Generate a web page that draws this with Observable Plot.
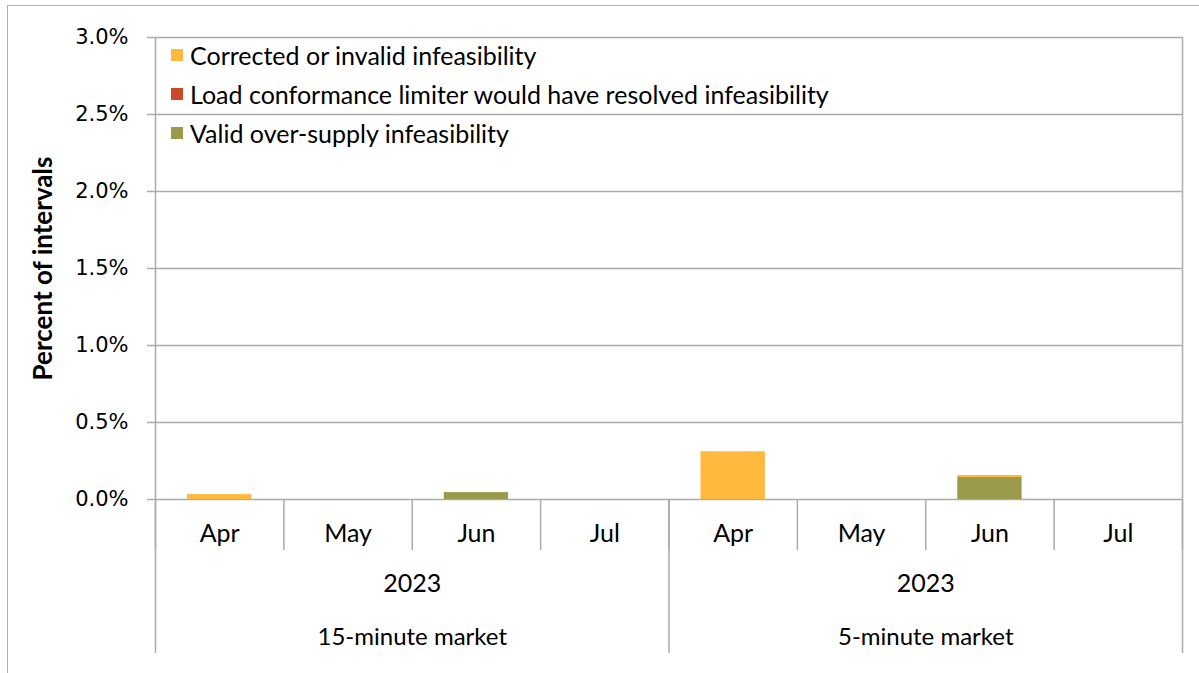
<!DOCTYPE html>
<html>
<head>
<meta charset="utf-8">
<script src="https://cdn.jsdelivr.net/npm/d3@7"></script>
<script src="https://cdn.jsdelivr.net/npm/@observablehq/plot@0.6"></script>
<style>
  body { margin: 0; background: #fff; }
  #wrap { position: relative; width: 1199px; height: 673px; overflow: hidden; font-family: Lato, "Open Sans", sans-serif; }
  #border { position: absolute; left: 7px; top: 5px; width: 1300px; height: 800px; border-left: 1.5px solid #b0b0b0; border-top: 1.5px solid #b0b0b0; }
  #legend { position: absolute; left: 171px; top: 35px; font-size: 25px; color: #000; }
  #legend .row { display: flex; align-items: center; height: 39px; }
  #legend .sw { width: 12px; height: 12px; margin-right: 7px; }
  svg { position: absolute; left: 0; top: 0; }
</style>
</head>
<body>
<div id="wrap"><div id="border"></div><div id="legend"></div></div>
<script>
const markets = ["15-minute market", "5-minute market"];
const year = "2023";
const months = ["Apr", "May", "Jun", "Jul"];
const seriesNames = [
  "Corrected or invalid infeasibility",
  "Load conformance limiter would have resolved infeasibility",
  "Valid over-supply infeasibility"
];
const seriesColors = ["#FFB93C", "#C9492A", "#9A9C4B"];
// values per category (15-min Apr..Jul, 5-min Apr..Jul), as fractions
const corrected = [0.00032, 0, 0, 0, 0.0031, 0, 0.00013, 0];
const loadConformance = [0, 0, 0, 0, 0, 0, 0, 0];
const validOverSupply = [0, 0, 0.00045, 0, 0, 0, 0.00143, 0];
const yTicks = [0, 0.005, 0.01, 0.015, 0.02, 0.025, 0.03];

const categories = markets.flatMap(m => months.map(mo => ({market: m, month: mo})));
const nCat = categories.length;
// stack order bottom -> top
const stackOrder = [
  {name: seriesNames[2], values: validOverSupply, color: seriesColors[2]},
  {name: seriesNames[1], values: loadConformance, color: seriesColors[1]},
  {name: seriesNames[0], values: corrected, color: seriesColors[0]}
];
const rects = [];
categories.forEach((c, i) => {
  let base = 0;
  stackOrder.forEach(s => {
    const v = s.values[i];
    if (v > 0) rects.push({i, y1: base, y2: base + v, color: s.color});
    base += v;
  });
});

const gray = "#ababab";
const catBounds = d3.range(nCat + 1);
const catCenters = d3.range(nCat).map(i => i + 0.5);
const groupBounds = d3.range(markets.length + 1).map(g => g * months.length);
const groupCenters = d3.range(markets.length).map(g => g * months.length + months.length / 2);

const plot = Plot.plot({
  width: 1199,
  height: 673,
  marginLeft: 155,
  marginRight: 17,
  marginTop: 37,
  marginBottom: 174,
  style: {fontFamily: "Lato, 'Open Sans', sans-serif", background: "transparent", color: "#000"},
  x: {type: "linear", domain: [0, nCat], axis: null},
  y: {domain: [0, 0.03], axis: null},
  marks: [
    Plot.ruleY(yTicks, {stroke: gray, strokeWidth: 1.5}),
    Plot.ruleX([0, nCat], {stroke: gray, strokeWidth: 1.5}),
    Plot.rect(rects, {x1: d => d.i, x2: d => d.i + 1, y1: "y1", y2: "y2", fill: "color", insetLeft: 32, insetRight: 32}),
    Plot.axisY({ticks: yTicks, tickFormat: d3.format(".1%"), tickSize: 8, tickPadding: 19, stroke: gray, strokeWidth: 1.5,
      fontSize: 21, fontFamily: "DejaVu Sans", fill: "#000", label: null}),
    Plot.axisX({ticks: catBounds, tickSize: 51, tickFormat: () => "", stroke: gray, strokeWidth: 1.5, label: null}),
    Plot.axisX({ticks: groupBounds, tickSize: 154, tickFormat: () => "", stroke: gray, strokeWidth: 1.5, label: null}),
    Plot.axisX({ticks: catCenters, tickSize: 0, tickPadding: 25, tickFormat: d => months[Math.floor(d) % months.length], fontSize: 25, fill: "#000", label: null}),
    Plot.axisX({ticks: groupCenters, tickSize: 0, tickPadding: 75, tickFormat: () => year, fontSize: 25, fill: "#000", label: null}),
    Plot.axisX({ticks: groupCenters, tickSize: 0, tickPadding: 128, tickFormat: d => markets[Math.floor(d / months.length)], fontSize: 24, fill: "#000", label: null}),
    Plot.text(["Percent of intervals"], {frameAnchor: "left", rotate: -90, dx: -112, textAnchor: "middle", fontWeight: "bold", fontSize: 26, fill: "#000"})
  ]
});
document.getElementById("wrap").appendChild(plot);

const legend = document.getElementById("legend");
seriesNames.forEach((n, k) => {
  const row = document.createElement("div");
  row.className = "row";
  row.innerHTML = `<span class="sw" style="background:${seriesColors[k]}"></span><span>${n}</span>`;
  legend.appendChild(row);
});
</script>
</body>
</html>
